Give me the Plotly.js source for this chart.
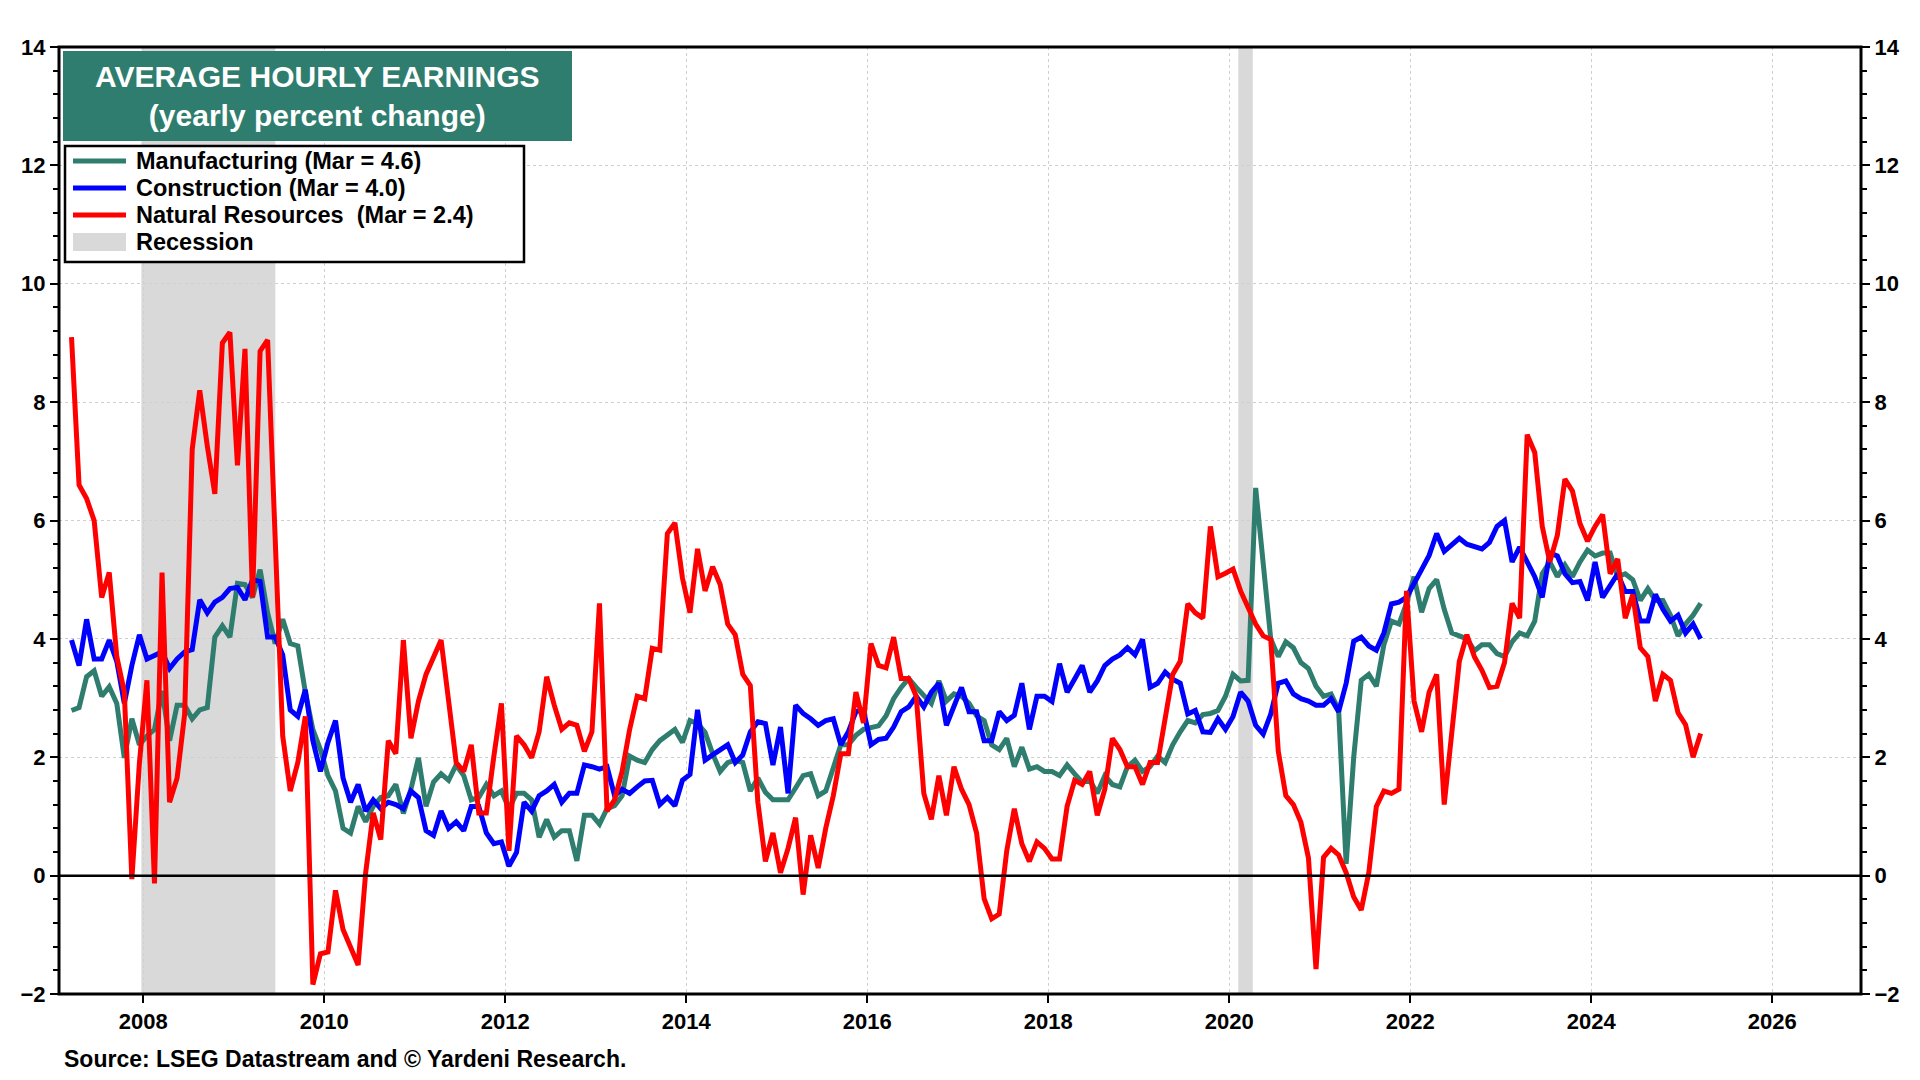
<!DOCTYPE html>
<html><head><meta charset="utf-8">
<script src="https://cdn.plot.ly/plotly-3.0.1.min.js"></script>
<style>html,body{margin:0;padding:0;background:#fff}#c{width:1920px;height:1080px}</style>
</head><body><div id="c"></div>
<script>
const startYear = 2007, startMonth = 3; // Mar 2007, monthly
const manufacturing = [2.79,2.84,3.36,3.46,3.03,3.19,2.91,1.99,2.65,2.21,2.36,2.47,3.12,2.28,2.88,2.88,2.65,2.80,2.84,4.03,4.22,4.03,4.94,4.92,4.70,5.17,4.44,3.92,4.33,3.92,3.88,3.10,2.47,
2.13,1.69,1.43,0.80,0.72,1.17,0.91,1.17,1.32,1.35,1.54,1.05,1.46,1.99,1.17,1.58,1.72,1.61,1.87,1.69,1.28,1.32,1.54,1.35,1.43,1.13,1.39,1.39,1.28,0.65,0.95,0.65,0.76,
0.76,0.25,1.02,1.02,0.87,1.13,1.18,1.35,2.02,1.95,1.91,2.13,2.28,2.38,2.47,2.25,2.62,2.57,2.42,2.06,1.76,1.91,1.95,1.91,1.43,1.65,1.41,1.28,1.28,1.28,1.48,1.69,1.72,
1.35,1.43,1.84,2.21,2.21,2.37,2.47,2.51,2.53,2.70,2.99,3.18,3.33,3.18,3.03,2.91,3.29,2.95,3.07,3.03,2.91,2.70,2.62,2.21,2.13,2.32,1.84,2.17,1.80,1.84,1.76,1.76,1.69,1.87,
1.72,1.58,1.61,1.39,1.69,1.54,1.50,1.84,1.95,1.76,1.84,2.02,1.91,2.21,2.43,2.62,2.58,2.72,2.74,2.79,3.03,3.40,3.29,3.3,6.55,5.2,4.0,3.7,3.95,3.85,3.6,3.5,3.2,
3.03,3.07,2.80,0.2,2.0,3.3,3.4,3.2,3.9,4.3,4.25,4.6,5.05,4.45,4.85,5.0,4.5,4.1,4.05,4.0,3.8,3.9,3.9,3.75,3.7,3.95,4.1,4.05,4.3,5.1,5.3,5.05,5.25,
5.05,5.3,5.5,5.4,5.45,5.45,5.05,5.1,5.0,4.65,4.85,4.65,4.65,4.4,4.05,4.25,4.4,4.6];
const construction = [3.98,3.55,4.33,3.66,3.66,3.98,3.62,2.91,3.55,4.07,3.66,3.72,3.78,3.5,3.66,3.78,3.82,4.66,4.44,4.62,4.7,4.85,4.87,4.66,5.0,4.97,4.03,4.03,3.73,2.8,2.69,3.14,2.28,
1.76,2.25,2.62,1.65,1.24,1.54,1.09,1.28,1.13,1.24,1.2,1.13,1.43,1.32,0.76,0.68,1.09,0.80,0.91,0.76,1.17,1.17,0.72,0.54,0.57,0.16,0.39,1.24,1.09,1.35,1.43,1.54,1.24,
1.39,1.39,1.87,1.84,1.80,1.84,1.35,1.46,1.39,1.5,1.6,1.61,1.2,1.32,1.18,1.61,1.71,2.80,1.95,2.04,2.13,2.21,1.91,2.04,2.43,2.60,2.57,1.87,2.51,1.39,2.88,2.74,2.65,
2.54,2.62,2.65,2.21,2.43,2.77,2.80,2.21,2.30,2.32,2.51,2.77,2.85,3.03,2.85,3.10,3.25,2.54,2.88,3.18,2.77,2.77,2.28,2.28,2.77,2.62,2.71,3.25,2.47,3.03,3.03,2.94,3.58,3.10,
3.32,3.55,3.10,3.29,3.55,3.66,3.73,3.85,3.73,3.99,3.18,3.25,3.44,3.32,3.25,2.73,2.79,2.43,2.42,2.65,2.47,2.69,3.10,2.95,2.54,2.39,2.73,3.25,3.29,3.07,2.99,2.95,2.88,
2.88,2.99,2.77,3.25,3.96,4.03,3.88,3.81,4.10,4.59,4.62,4.70,4.92,5.17,5.41,5.78,5.48,5.59,5.70,5.60,5.55,5.52,5.63,5.9,6.0,5.3,5.55,5.28,5.05,4.7,5.45,5.4,5.1,
4.95,4.97,4.65,5.3,4.7,4.9,5.1,4.8,4.8,4.3,4.3,4.75,4.5,4.3,4.4,4.1,4.25,4.0];
const naturalResources = [9.1,6.6,6.37,6.0,4.7,5.12,3.7,3.1,-0.06,1.9,3.3,-0.13,5.12,1.24,1.65,2.73,7.2,8.2,7.26,6.45,9.0,9.18,6.93,8.9,4.7,8.86,9.05,5.85,2.36,1.43,1.91,2.69,-1.84,
-1.32,-1.29,-0.25,-0.91,-1.21,-1.51,0.05,1.06,0.61,2.28,2.06,3.98,2.32,2.95,3.40,3.70,3.98,2.95,1.91,1.76,2.21,1.06,1.06,2.02,2.91,0.42,2.36,2.21,1.99,2.43,3.36,2.88,2.47,
2.58,2.54,2.10,2.43,4.6,1.09,1.28,1.76,2.47,3.03,2.99,3.84,3.81,5.78,5.96,5.03,4.44,5.52,4.81,5.22,4.92,4.25,4.07,3.40,3.21,1.24,0.24,0.72,0.05,0.46,0.98,-0.32,0.68,
0.13,0.80,1.35,2.06,2.06,3.10,2.58,3.92,3.55,3.51,4.03,3.33,3.33,3.03,1.39,0.95,1.69,1.02,1.84,1.46,1.20,0.72,-0.39,-0.73,-0.65,0.42,1.13,0.54,0.24,0.57,0.46,0.28,0.28,1.17,
1.61,1.54,1.76,1.02,1.46,2.32,2.13,1.84,1.84,1.54,1.91,1.91,2.69,3.40,3.62,4.59,4.44,4.35,5.9,5.05,5.11,5.18,4.81,4.52,4.25,4.05,3.99,2.1,1.35,1.2,0.9,0.3,-1.58,
0.31,0.46,0.35,0.05,-0.36,-0.58,0.05,1.17,1.43,1.39,1.46,4.81,2.95,2.43,3.10,3.40,1.2,2.51,3.62,4.07,3.70,3.47,3.18,3.2,3.6,4.6,4.35,7.45,7.15,5.9,5.3,5.75,6.7,
6.5,5.95,5.65,5.9,6.1,5.1,5.35,4.35,4.75,3.85,3.7,2.95,3.4,3.3,2.75,2.55,2.0,2.4];
const recessions = [[2007.98, 2009.46],[2020.1, 2020.26]];
const names = ['Manufacturing (Mar = 4.6)','Construction (Mar = 4.0)','Natural Resources  (Mar = 2.4)','Recession'];
const colors = ['#2E7D6E','#0000FF','#FF0000','#D9D9D9'];
const xTicks = [2008,2010,2012,2014,2016,2018,2020,2022,2024,2026];
const yTicks = [-2,0,2,4,6,8,10,12,14];

const xOf = arr => arr.map((_, i) => startYear + (startMonth - 1 + i + 0.5) / 12);
const ln = (y, i) => ({x: xOf(y), y: y, type:'scatter', mode:'lines', name: names[i], line:{color: colors[i], width: 5}});
const traces = [ln(manufacturing,0), ln(construction,1), ln(naturalResources,2),
  {x:[2026.98], y:[null], yaxis:'y2', type:'scatter', showlegend:false, hoverinfo:'skip'}];
const FAM = 'Arial, "Liberation Sans", sans-serif';
const F = {family:FAM, size:22, color:'#000', weight:'bold'};
const shapes = recessions.map(r => ({type:'rect', xref:'x', yref:'paper', x0:r[0], x1:r[1], y0:0, y1:1, fillcolor:colors[3], line:{width:0}, layer:'below'}));
shapes.push({type:'line', xref:'paper', yref:'y', x0:0, x1:1, y0:0, y1:0, line:{color:'#000', width:2.5}});
shapes.push({type:'rect', xref:'paper', yref:'paper', x0:0, x1:1, y0:0, y1:1, line:{color:'#000', width:3}});
const W = 1920, H = 1080, L = 59, R = 59, T = 47, B = 86;
const px = x => (x - L) / (W - L - R), py = y => 1 - (y - T) / (H - T - B);
shapes.push({type:'rect', xref:'paper', yref:'paper', x0:px(63), x1:px(572), y0:py(141), y1:py(51), fillcolor:'#2E7D6E', line:{width:0}});
shapes.push({type:'rect', xref:'paper', yref:'paper', x0:px(65), x1:px(524), y0:py(262), y1:py(146), fillcolor:'#fff', line:{color:'#000', width:2.5}});
const annotations = [
  {xref:'paper', yref:'paper', x:px(317), y:py(96), xanchor:'center', yanchor:'middle', text:'AVERAGE HOURLY EARNINGS<br>(yearly percent change)', showarrow:false,
    font:{family:FAM, size:30, color:'#fff', weight:'bold'}, align:'center'},
  {xref:'paper', yref:'paper', x:px(62), y:py(1059), xanchor:'left', yanchor:'middle', text:'Source: LSEG Datastream and © Yardeni Research.', showarrow:false,
    font:Object.assign({}, F, {size:23})}
];
names.forEach((n, i) => {
  const yc = 161 + i * 27;
  shapes.push({type:'line', xref:'paper', yref:'paper', x0:px(73), x1:px(126), y0:py(yc), y1:py(yc),
    line:{color:colors[i], width: i === 3 ? 18 : 5}});
  annotations.push({xref:'paper', yref:'paper', x:px(134), y:py(yc), xanchor:'left', yanchor:'middle', text:n, showarrow:false,
    font:Object.assign({}, F, {size:23.5})});
});
const yax = {range:[-2,14], tickvals:yTicks, ticks:'outside', ticklen:8, tickwidth:2, tickcolor:'#000', showline:false,
  showgrid:true, gridcolor:'#cfcfcf', griddash:'dot', gridwidth:1, zeroline:false, tickfont:F,
  minor:{dtick:0.4, ticks:'outside', ticklen:5, tickcolor:'#000', showgrid:false}};
Plotly.newPlot('c', traces, {
  width:W, height:H, paper_bgcolor:'#fff', plot_bgcolor:'#fff',
  margin:{l:L, r:R, t:T, b:B}, showlegend:false,
  xaxis:{range:[2007.07,2026.98], tickvals:xTicks, ticktext:xTicks.map(String), ticks:'outside', ticklen:8, tickwidth:2, tickcolor:'#000',
    showgrid:true, gridcolor:'#cfcfcf', griddash:'dot', zeroline:false, showline:false, tickfont:F},
  yaxis: yax,
  yaxis2: Object.assign({}, yax, {overlaying:'y', side:'right', showgrid:false}),
  shapes: shapes,
  annotations: annotations
}, {staticPlot:true});
</script></body></html>
